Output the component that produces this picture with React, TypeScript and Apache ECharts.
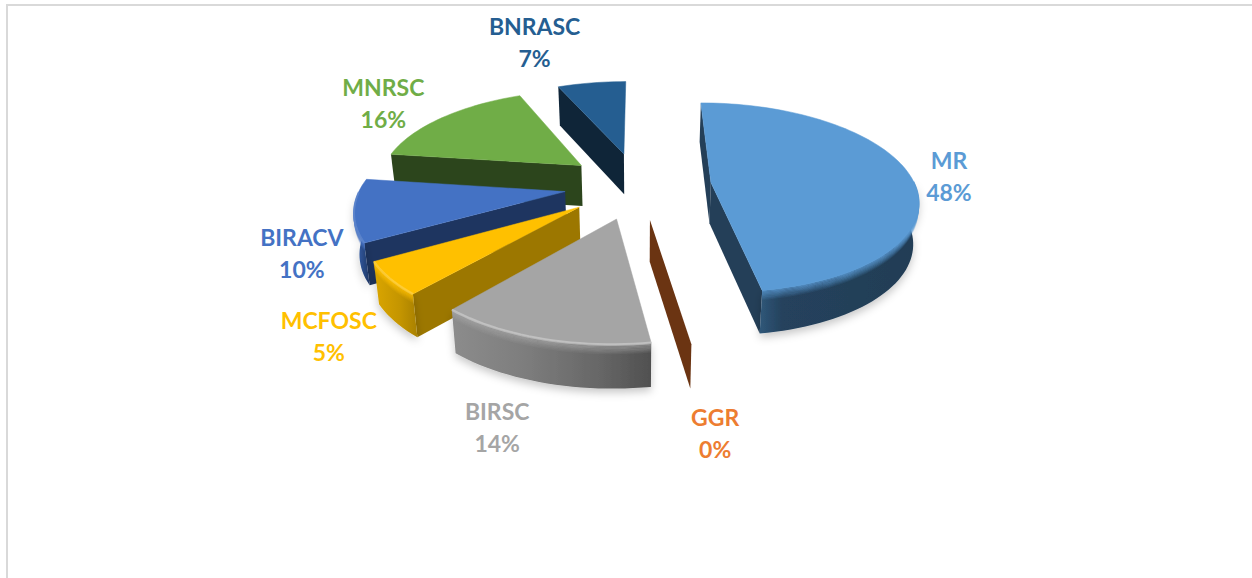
import React, { useEffect, useRef } from "react";
import * as echarts from "echarts";

const categories = ["MR", "GGR", "BIRSC", "MCFOSC", "BIRACV", "MNRSC", "BNRASC"];
const shares = [47.5, 0.1, 13.7, 5.4, 10.4, 16.4, 6.5];
const topColors = ["#5B9BD5", "#ED7D31", "#A5A5A5", "#FFC000", "#4472C4", "#70AD47", "#255E91"];
const faceColors = ["#243F58", "#6B3412", "#555555", "#9C7700", "#1E3560", "#2C451C", "#0F2538"];
const wallStops: [number, string][][] = [
  [[0, "#2f5779"], [0.14, "#25425d"], [1, "#233d55"]],
  [[0, "#6B3412"], [1, "#6B3412"]],
  [[0, "#8c8c8c"], [0.35, "#7e7e7e"], [0.75, "#666666"], [1, "#505050"]],
  [[0, "#dba600"], [0.6, "#c49500"], [1, "#a98100"]],
  [[0, "#3a68b8"], [1, "#1f3765"]],
  [[0, "#2C451C"], [1, "#2C451C"]],
  [[0, "#0F2538"], [1, "#0F2538"]],
];
const rimGlow = [0, 0, 0.3, 0.2, 0.12, 0, 0];
const paintOrder = [4, 7, 6, 5, 3, 2, 1];
const labelOffsets = [[39, 1], [23, 89], [-44, 88], [-61, 57], [-52, 42], [-59, -15], [-57, -41]];

const startAngle = 0;
const explode = 0.36;
const cx = 638, cy = 185, Ax = 204, Ay = 93, k = 0.16, depth = 41;
const RAD = Math.PI / 180;

function project(u: number, v: number, h = 0): number[] {
  const w = 1 + k * v;
  const x = cx + (Ax * u) / w;
  const y = cy - (Ay * v) / w;
  return [cx + (x - cx) * (1 - 0.02 * h), y + (h * depth) / Math.pow(w, 0.3)];
}

const total = shares.reduce((a, b) => a + b, 0);
function sliceAngles(i: number): number[] {
  const before = shares.slice(0, i).reduce((a, b) => a + b, 0);
  const a0 = startAngle + (before / total) * 360;
  return [a0, a0 + (shares[i] / total) * 360];
}

function renderSlice(params: any) {
  const i = params.dataIndex;
  const [a0, a1] = sliceAngles(i);
  const mid = ((a0 + a1) / 2) * RAD;
  const ou = explode * Math.sin(mid), ov = explode * Math.cos(mid);
  const rim = (deg: number, h = 0, r = 1) =>
    project(ou + r * Math.sin(deg * RAD), ov + r * Math.cos(deg * RAD), h);
  const apex = (h = 0) => project(ou, ov, h);
  const base = paintOrder[i] * 100;
  const n = Math.max(2, Math.ceil((a1 - a0) / 2));
  const degs = Array.from({ length: n + 1 }, (_, j) => a0 + ((a1 - a0) * j) / n);
  const children: any[] = [];
  const poly = (points: number[][], fill: any, z: number, extra: any = {}) =>
    children.push({ type: "polygon", z2: base + z, shape: { points }, style: { fill, ...extra } });

  if (Math.sin(a0 * RAD) <= 0.02)
    poly([apex(0), rim(a0, 0), rim(a0, 1), apex(1)], faceColors[i], 1);
  if (Math.sin(a1 * RAD) > 0)
    poly([apex(0), rim(a1, 0), rim(a1, 1), apex(1)], faceColors[i], 2);

  const front = degs.filter((d) => Math.cos(d * RAD) < 0.02);
  const sized = a1 - a0 > 2;
  if (front.length > 1 && sized) {
    const pts = [...front.map((d) => rim(d, 0)), ...front.slice().reverse().map((d) => rim(d, 1))];
    poly(pts, new echarts.graphic.LinearGradient(0, 0, 1, 0,
      wallStops[i].map(([offset, color]) => ({ offset, color }))), 3, {
      shadowColor: "rgba(0,0,0,0.22)", shadowBlur: 8, shadowOffsetY: 4,
    });
    for (let s = 0; s < 8; s++) {
      children.push({
        type: "polyline", z2: base + 4,
        shape: { points: front.map((d) => rim(d, (s / 41) * 1.2)) },
        style: { fill: null, stroke: topColors[i], lineWidth: 1.4, opacity: 0.8 * (1 - s / 8) },
      });
    }
  }
  if (sized) {
    poly([apex(0), ...degs.map((d) => rim(d, 0))], topColors[i], 5, { stroke: topColors[i], lineWidth: 0.5 });
    if (rimGlow[i] > 0 && front.length > 1) {
      children.push({
        type: "polyline", z2: base + 6,
        shape: { points: front.map((d) => rim(d, 0)) },
        style: { fill: null, stroke: "#ffffff", lineWidth: 2.5, opacity: rimGlow[i] },
      });
    }
  }

  const lp = rim((a0 + a1) / 2, 0);
  children.push({
    type: "text", z2: 9000,
    style: {
      text: `${categories[i]}\n${Math.round(shares[i])}%`,
      x: lp[0] + labelOffsets[i][0], y: lp[1] + labelOffsets[i][1],
      textAlign: "center", textVerticalAlign: "middle",
      fontFamily: "Lato", fontWeight: 700, fontSize: 23, lineHeight: 32, fill: topColors[i],
    },
  });
  return { type: "group", children };
}

export default function App() {
  const ref = useRef<HTMLDivElement>(null);
  useEffect(() => {
    const chart = echarts.init(ref.current!, undefined, { renderer: "svg" });
    chart.setOption({
      animation: false,
      backgroundColor: "#ffffff",
      graphic: [
        { type: "rect", shape: { x: 6, y: 4, width: 1246, height: 2 }, style: { fill: "#d9d9d9" }, silent: true },
        { type: "rect", shape: { x: 6, y: 4, width: 2, height: 574 }, style: { fill: "#d9d9d9" }, silent: true },
      ],
      series: [{
        type: "custom",
        coordinateSystem: "none",
        silent: true,
        renderItem: renderSlice,
        data: categories.map((name, i) => ({ name, value: [shares[i]] })),
      }],
    });
    return () => chart.dispose();
  }, []);
  return <div ref={ref} style={{ position: "absolute", left: 0, top: 0, width: 1252, height: 578 }} />;
}
